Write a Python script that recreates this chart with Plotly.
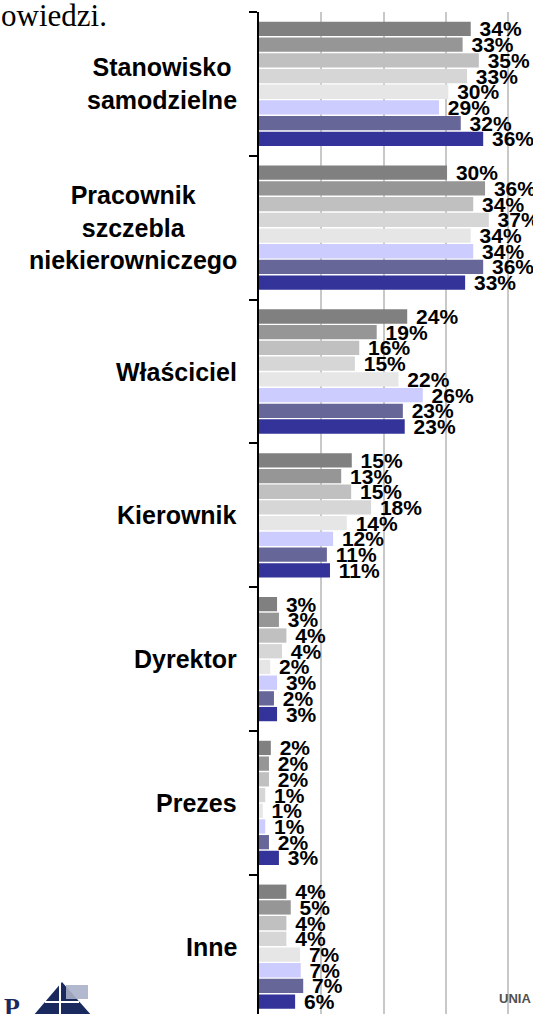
import plotly.graph_objects as go

categories = ["Stanowisko samodzielne", "Pracownik szczebla niekierowniczego",
              "Właściciel", "Kierownik", "Dyrektor", "Prezes", "Inne"]
category_labels = ["Stanowisko<br>samodzielne", "Pracownik<br>szczebla<br>niekierowniczego",
                   "Właściciel", "Kierownik", "Dyrektor", "Prezes", "Inne"]

series_names = ["Seria 1", "Seria 2", "Seria 3", "Seria 4",
                "Seria 5", "Seria 6", "Seria 7", "Seria 8"]
series_colors = ["#808080", "#969696", "#C0C0C0", "#D6D6D6",
                 "#E6E6E6", "#CCCCFF", "#666699", "#333399"]

# values per series (one entry per category)
s1 = [34.0, 30.2, 23.8, 14.9, 2.9, 1.9, 4.4]
s2 = [32.7, 36.3, 18.9, 13.2, 3.2, 1.6, 5.1]
s3 = [35.3, 34.4, 16.1, 14.8, 4.4, 1.6, 4.4]
s4 = [33.4, 36.9, 15.4, 18.0, 3.7, 1.0, 4.4]
s5 = [30.4, 34.0, 22.4, 14.1, 1.8, 0.6, 6.6]
s6 = [28.9, 34.4, 26.3, 11.9, 2.9, 1.0, 6.7]
s7 = [32.4, 36.0, 23.1, 10.9, 2.4, 1.6, 7.1]
s8 = [36.0, 33.1, 23.4, 11.4, 2.9, 3.2, 5.8]
series_values = [s1, s2, s3, s4, s5, s6, s7, s8]

x_ticks = [0, 10, 20, 30, 40]

FONT = "Arial, Liberation Sans, sans-serif"
SERIF = "Times New Roman, Liberation Serif, serif"

W, H = 533, 1014
ML, MR, MT, MB = 259, 0, 12, 0

fig = go.Figure()
for name, color, vals in zip(series_names, series_colors, series_values):
    fig.add_trace(go.Bar(
        y=categories, x=vals, name=name, orientation="h",
        marker=dict(color=color, line=dict(width=0)),
        texttemplate="\u00a0%{x:.0f}%", textposition="outside",
        textfont=dict(family=FONT, size=21, color="black", weight="bold"),
        constraintext="none", cliponaxis=False, hoverinfo="x+name",
    ))

annotations = []
for cat, lab in zip(categories, category_labels):
    annotations.append(dict(
        x=0, xref="paper", y=cat, yref="y", xanchor="right", yanchor="middle",
        xshift=-20, text=lab, align="center", showarrow=False,
        font=dict(family=FONT, size=25, color="black", weight="bold"),
    ))

plot_w = W - ML - MR
plot_h = H - MT - MB

def px_x(px):
    return (px - ML) / plot_w

def px_y(py):
    return (H - MB - py) / plot_h

# cropped page text at top left
annotations.append(dict(
    x=px_x(-1), xref="paper", y=px_y(-3.6), yref="paper",
    xanchor="left", yanchor="top", text="owiedzi.", showarrow=False,
    font=dict(family=SERIF, size=31, color="black"),
))
# logo letter bottom left
annotations.append(dict(
    x=px_x(2), xref="paper", y=px_y(991), yref="paper",
    xanchor="left", yanchor="top", text="P", showarrow=False,
    font=dict(family=SERIF, size=26, color="#1B2A5E", weight="bold"),
))
# small text bottom right
annotations.append(dict(
    x=1, xref="paper", y=px_y(989), yref="paper",
    xanchor="right", yanchor="top", text="UNIA", showarrow=False,
    font=dict(family=FONT, size=13, color="#505050", weight="bold"),
))

shape_common = dict(xref="paper", yref="paper", xsizemode="pixel", ysizemode="pixel",
                    xanchor=0, yanchor=0)
shapes = [
    dict(type="path", path="M -197,32 L -226,-2 L -167,-2 Z",
         fillcolor="#1B2A5E", line=dict(width=0), **shape_common),
    dict(type="path", path="M -193,15 L -171,15 L -171,29 L -193,29 Z",
         fillcolor="rgba(170,176,200,0.9)", line=dict(width=0), **shape_common),
    dict(type="path", path="M -199,31 L -199,-2",
         line=dict(color="white", width=2), **shape_common),
    dict(type="path", path="M -214,12 L -180,12",
         line=dict(color="white", width=2), **shape_common),
]

n_cat_visible = plot_h / 143.8

fig.update_layout(
    width=W, height=H,
    margin=dict(l=ML, r=MR, t=MT, b=MB, pad=0),
    paper_bgcolor="white", plot_bgcolor="white",
    barmode="group", bargap=0.126, bargroupgap=0.09,
    showlegend=False,
    font=dict(family=FONT, color="black"),
    xaxis=dict(range=[0, 44], tickvals=x_ticks, showticklabels=False, ticks="",
               showgrid=True, gridcolor="#C8C8C8", gridwidth=2,
               zeroline=False, showline=False, fixedrange=True),
    yaxis=dict(type="category", categoryorder="array", categoryarray=categories,
               range=[n_cat_visible - 0.5, -0.5],
               showticklabels=False, tickson="boundaries", ticks="outside",
               ticklen=8, tickwidth=2, tickcolor="black",
               showline=True, linecolor="black", linewidth=2,
               showgrid=False, zeroline=False, fixedrange=True),
    annotations=annotations,
    shapes=shapes,
)

fig.write_html("out.html", config={"displayModeBar": False},
               post_script="document.body.style.margin='0px';document.body.style.overflow='hidden';")
